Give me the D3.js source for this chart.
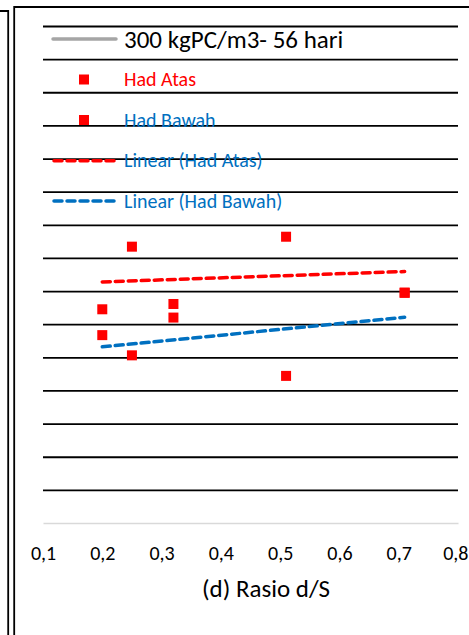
<!DOCTYPE html>
<html>
<head>
<meta charset="utf-8">
<script src="https://cdn.jsdelivr.net/npm/d3@7"></script>
<style>
  html, body { margin: 0; padding: 0; background: #fff; }
  svg { display: block; }
  text { font-family: Carlito, Lato, "Open Sans", sans-serif; }
</style>
</head>
<body>
<script>
// ---- data ----
const xValues = [0.2, 0.25, 0.32, 0.51, 0.71];
const hadAtas = [6.45, 8.34, 6.61, 8.64, 6.95];
const hadBawah = [5.67, 5.06, 6.2, 4.44, 6.95];
const xTicks = [0.1, 0.2, 0.3, 0.4, 0.5, 0.6, 0.7, 0.8];
const xTickLabels = ["0,1", "0,2", "0,3", "0,4", "0,5", "0,6", "0,7", "0,8"];
const yTicks = [0, 1, 2, 3, 4, 5, 6, 7, 8, 9, 10, 11, 12, 13, 14, 15];
const legendLabels = ["300 kgPC/m3- 56 hari", "Had Atas", "Had Bawah", "Linear (Had Atas)", "Linear (Had Bawah)"];
const xTitle = "(d) Rasio d/S";

const W = 469, H = 635;
const svg = d3.select("body").append("svg").attr("width", W).attr("height", H);

// frames
svg.append("path").attr("d", "M0,11H8.2V640").attr("fill", "none").attr("stroke", "#000").attr("stroke-width", 1.8);
svg.append("path").attr("d", "M14.2,640V7H475").attr("fill", "none").attr("stroke", "#000").attr("stroke-width", 1.8);

const x = d3.scaleLinear().domain([0.1, 0.8]).range([43, 458]);
const y = d3.scaleLinear().domain([0, 15]).range([523, 26]);

// gridlines
const yAxis = d3.axisLeft(y).tickValues(yTicks.slice(1)).tickSize(-(458 - 43)).tickFormat("");
const gy = svg.append("g").attr("transform", "translate(43,0)").call(yAxis);
gy.select(".domain").remove();
gy.selectAll(".tick line").attr("stroke", "#000").attr("stroke-width", 1.8);

// baseline + tick labels
const xAxis = d3.axisBottom(x).tickValues(xTicks).tickSize(0).tickPadding(0)
  .tickFormat((d, i) => xTickLabels[i]);
const gx = svg.append("g").attr("transform", `translate(0,${y(0)})`).call(xAxis);
gx.select(".domain").attr("stroke", "#d9d9d9").attr("stroke-width", 1.6);
gx.selectAll(".tick text").attr("dy", null).attr("y", 37).attr("font-size", 20)
  .attr("fill", "#000").style("font-family", "Carlito, Lato, sans-serif");
// keep the last label inside the window, as in the reference
gx.selectAll(".tick text").filter((d, i, n) => i === n.length - 1)
  .attr("text-anchor", "end").attr("x", 10);

svg.append("text").attr("x", 266).attr("y", 597).attr("text-anchor", "middle")
  .attr("font-size", 25).attr("fill", "#000").text(xTitle);

// trendlines (least squares from the data)
function fit(xs, ys) {
  const mx = d3.mean(xs), my = d3.mean(ys);
  const b = d3.sum(xs, (v, i) => (v - mx) * (ys[i] - my)) / d3.sum(xs, v => (v - mx) ** 2);
  return v => my + b * (v - mx);
}
const ext = d3.extent(xValues);
const line = d3.line().x(d => x(d[0])).y(d => y(d[1]));
[[hadAtas, "#FF0000"], [hadBawah, "#0070C0"]].forEach(([ys, c]) => {
  const f = fit(xValues, ys);
  svg.append("path").datum(ext.map(v => [v, f(v)])).attr("d", line)
    .attr("fill", "none").attr("stroke", c).attr("stroke-width", 3.5)
    .attr("stroke-dasharray", "8,5").attr("stroke-linecap", "round");
});

// markers
const ms = 10;
[hadAtas, hadBawah].forEach(ys => {
  svg.append("g").selectAll("rect").data(xValues.map((v, i) => [v, ys[i]])).join("rect")
    .attr("x", d => x(d[0]) - ms / 2).attr("y", d => y(d[1]) - ms / 2)
    .attr("width", ms).attr("height", ms).attr("fill", "#FF0000");
});

// legend
const lg = svg.append("g");
const rows = [39, 79.5, 120, 160.7, 201];
lg.append("line").attr("x1", 53).attr("x2", 116).attr("y1", rows[0]).attr("y2", rows[0])
  .attr("stroke", "#A5A5A5").attr("stroke-width", 3.5).attr("stroke-linecap", "round");
lg.append("rect").attr("x", 84 - ms / 2).attr("y", rows[1] - ms / 2).attr("width", ms).attr("height", ms).attr("fill", "#FF0000");
lg.append("rect").attr("x", 84 - ms / 2).attr("y", rows[2] - ms / 2).attr("width", ms).attr("height", ms).attr("fill", "#FF0000");
lg.append("line").attr("x1", 54).attr("x2", 116).attr("y1", rows[3]).attr("y2", rows[3])
  .attr("stroke", "#FF0000").attr("stroke-width", 3.5).attr("stroke-dasharray", "8,5").attr("stroke-linecap", "round");
lg.append("line").attr("x1", 54).attr("x2", 116).attr("y1", rows[4]).attr("y2", rows[4])
  .attr("stroke", "#0070C0").attr("stroke-width", 3.5).attr("stroke-dasharray", "8,5").attr("stroke-linecap", "round");

const legendColors = ["#000", "#FF0000", "#0070C0", "#0070C0", "#0070C0"];
const legendSizes = [25, 20, 20, 20, 20];
const legendBase = [47.5, 86, 126.5, 167, 207.5];
lg.selectAll("text.leg").data(legendLabels).join("text").attr("class", "leg")
  .attr("x", 124).attr("y", (d, i) => legendBase[i])
  .attr("font-size", (d, i) => legendSizes[i]).attr("fill", (d, i) => legendColors[i]).text(d => d);
</script>
</body>
</html>
